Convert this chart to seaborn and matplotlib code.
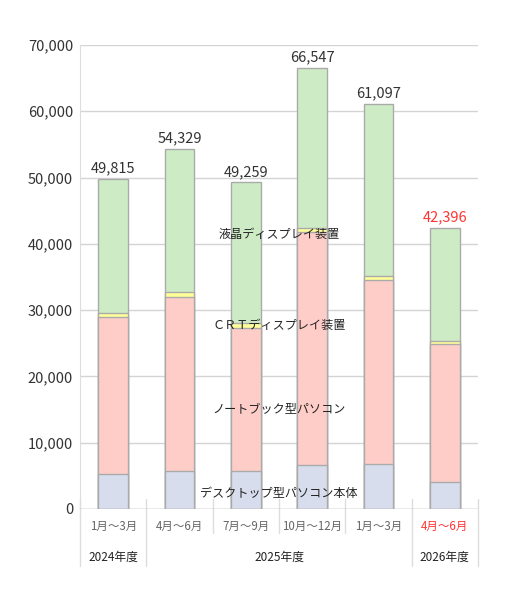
import numpy as np
import pandas as pd
import matplotlib
matplotlib.use("Agg")
import matplotlib.pyplot as plt
import seaborn as sns

# データ（単位：台）
months = ["1月～3月", "4月～6月", "7月～9月", "10月～12月", "1月～3月", "4月～6月"]
years = ["2024年度", "2025年度", "2026年度"]
desktop = [5230, 5730, 5730, 6590, 6740, 4020]
notebook = [23770, 26250, 21620, 35140, 27800, 20820]
crt = [600, 700, 650, 700, 650, 550]
lcd = [20215, 21649, 21259, 24117, 25907, 17006]
totals = [49815, 54329, 49259, 66547, 61097, 42396]

series = ["デスクトップ型パソコン本体", "ノートブック型パソコン", "ＣＲＴディスプレイ装置", "液晶ディスプレイ装置"]
colors = ["#d8ddee", "#ffcdc8", "#ffff99", "#cdecc5"]

sns.set_style("white")
plt.rcParams['font.family'] = ['Noto Sans CJK JP', 'DejaVu Sans']

df = pd.DataFrame({"x": [str(i) for i in range(6)]})
stack = np.cumsum([desktop, notebook, crt, lcd], axis=0)

fig = plt.figure(figsize=(5.05, 5.94), dpi=100)
ax = fig.add_axes([80 / 505, 1 - 509 / 594, 398 / 505, 464 / 594])

# 積み上げ棒（上の系列から順に重ねる）
for i in range(3, -1, -1):
    df["v"] = stack[i]
    sns.barplot(data=df, x="x", y="v", color=colors[i], edgecolor="#aaaaaa",
                linewidth=1, width=0.45, saturation=1, ax=ax, zorder=3)

ax.set_ylim(0, 70000)
ax.set_xlim(-0.5, 5.5)
ax.set_yticks(range(0, 70001, 10000))
ax.set_yticklabels([f"{v:,}" for v in range(0, 70001, 10000)], fontsize=10.5, color="#333333")
ax.tick_params(axis="y", length=0, pad=5)
ax.set_xticks([])
ax.set_xlabel("")
ax.set_ylabel("")
for s in ["top", "right", "bottom"]:
    ax.spines[s].set_visible(False)
ax.spines["left"].set_color("#dddddd")
ax.grid(axis="y", color="#d4d4d4", linewidth=1, zorder=0)
ax.axhline(0, color="#bbbbbb", linewidth=1, zorder=4)

# 合計値
for i, t in enumerate(totals):
    c = "#ff3333" if i == 5 else "#333333"
    ax.text(i, t + 500, f"{t:,}", ha="center", va="bottom", fontsize=10.5, color=c)

# 系列ラベル
label_y = [493.3, 409, 325.7, 234.3]
for name, py in zip(series, label_y):
    ax.text(2.5, (509 - py) / 464 * 70000, name, ha="center", va="center",
            fontsize=8.7, color="#222222", zorder=5)

# 下部の表
tr = ax.get_xaxis_transform()
for xb in [-0.5, 0.5, 4.5, 5.5]:
    ax.plot([xb, xb], [10 / 464, -57 / 464], transform=tr, color="#dddddd",
            linewidth=1, clip_on=False)
for xb in [1.5, 2.5, 3.5]:
    ax.plot([xb, xb], [10 / 464, -24 / 464], transform=tr, color="#dddddd",
            linewidth=1, clip_on=False)
for i, m in enumerate(months):
    c = "#ff3333" if i == 5 else "#666666"
    ax.text(i, -17 / 464, m, transform=tr, ha="center", va="center", fontsize=8.3, color=c)
for xp, y in zip([0, 2.5, 5], years):
    ax.text(xp, -48.5 / 464, y, transform=tr, ha="center", va="center", fontsize=8.5, color="#222222")

fig.savefig("out.png", dpi=100)
